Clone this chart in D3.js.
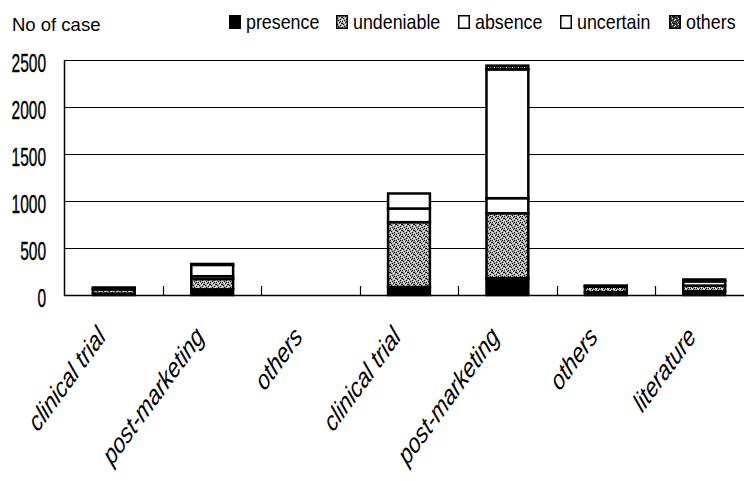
<!DOCTYPE html>
<html>
<head>
<meta charset="utf-8">
<script src="https://cdn.jsdelivr.net/npm/d3@7"></script>
<style>
  body { margin: 0; background: #fff; }
  svg { display: block; }
</style>
</head>
<body>
<svg id="chart" width="744" height="481"></svg>
<script>
// data
const categories = ["clinical trial", "post-marketing", "others", "clinical trial ", "post-marketing ", "others ", "literature"];
const presence   = [15, 60, 0, 85, 180, 30, 40];
const undeniable = [45, 110, 0, 690, 690, 60, 60];
const absence    = [10, 30, 0, 145, 160, 5, 45];
const uncertain  = [10, 120, 0, 160, 1370, 5, 10];
const others     = [0, 10, 0, 0, 40, 0, 10];
const yTicks = [0, 500, 1000, 1500, 2000, 2500];
const seriesNames = ["presence", "undeniable", "absence", "uncertain", "others"];

const svg = d3.select("#chart");
const sans = "'Liberation Sans', Arial, sans-serif";

// fill patterns
const defs = svg.append("defs");
function stipple(id, bg, dark, light) {
  const p = defs.append("pattern").attr("id", id)
    .attr("patternUnits", "userSpaceOnUse").attr("width", 6).attr("height", 6);
  p.append("rect").attr("width", 6).attr("height", 6).attr("fill", bg);
  dark.forEach(([x, y]) => p.append("rect").attr("x", x).attr("y", y).attr("width", 1).attr("height", 1).attr("fill", "#000"));
  light.forEach(([x, y]) => p.append("rect").attr("x", x).attr("y", y).attr("width", 1).attr("height", 1).attr("fill", "#fff"));
}
stipple("pUnd", "#a8a8a8", [[0,0],[3,1],[1,3],[4,4],[2,5],[5,2],[4,0],[0,2]], [[2,1],[5,5],[0,4],[3,3],[1,0],[4,2]]);
stipple("pOth", "#505050", [[0,0],[3,1],[1,3],[4,4],[2,5],[5,2],[1,1],[4,2]], [[2,1],[5,5],[0,4],[3,3]]);

const fills = {
  presence: "#000",
  undeniable: "url(#pUnd)",
  absence: "#fff",
  uncertain: "#fff",
  others: "url(#pOth)"
};

const table = categories.map((c, i) => ({
  cat: c,
  presence: presence[i],
  undeniable: undeniable[i],
  absence: absence[i],
  uncertain: uncertain[i],
  others: others[i]
}));

const x = d3.scaleBand()
  .domain(categories)
  .range([64.6, 753.4])
  .paddingInner(0.575)
  .paddingOuter(0.2875);

const y = d3.scaleLinear()
  .domain([0, 2500])
  .range([295, 60]);

// gridlines
svg.append("g")
  .selectAll("line")
  .data(yTicks.filter(d => d > 0))
  .join("line")
  .attr("x1", 64).attr("x2", 744)
  .attr("y1", d => Math.round(y(d)) + 0.5).attr("y2", d => Math.round(y(d)) + 0.5)
  .attr("stroke", "#000").attr("stroke-width", 1.2);

// y axis line & baseline
svg.append("line").attr("x1", 64.5).attr("x2", 64.5).attr("y1", y(2500)).attr("y2", y(0) + 1)
  .attr("stroke", "#000").attr("stroke-width", 1.5);
svg.append("line").attr("x1", 64).attr("x2", 744).attr("y1", y(0) + 0.5).attr("y2", y(0) + 0.5)
  .attr("stroke", "#000").attr("stroke-width", 1.5);

// category tick marks between bands
const step = x.step();
svg.append("g")
  .selectAll("line")
  .data(categories.slice(1))
  .join("line")
  .attr("x1", d => Math.round(x(d) - x.paddingInner() * step / 2) + 0.5)
  .attr("x2", d => Math.round(x(d) - x.paddingInner() * step / 2) + 0.5)
  .attr("y1", y(0) - 9).attr("y2", y(0))
  .attr("stroke", "#000").attr("stroke-width", 1.2);

// y labels (condensed)
svg.append("g")
  .selectAll("text")
  .data(yTicks)
  .join("text")
  .attr("transform", d => `translate(46,${y(d) + 3}) scale(0.62,1)`)
  .attr("text-anchor", "end")
  .attr("dy", "0.35em")
  .style("font-family", sans)
  .style("font-size", "25px")
  .style("stroke", "#000")
  .style("stroke-width", 0.4)
  .text(d => d);

// stacked bars
const stack = d3.stack().keys(seriesNames)(table);
svg.append("g")
  .selectAll("g")
  .data(stack)
  .join("g")
  .attr("fill", d => fills[d.key])
  .selectAll("rect")
  .data(d => d.filter(s => s[1] - s[0] > 0))
  .join("rect")
  .attr("x", d => x(d.data.cat))
  .attr("width", x.bandwidth())
  .attr("y", d => y(d[1]))
  .attr("height", d => y(d[0]) - y(d[1]))
  .attr("stroke", "#000")
  .attr("stroke-width", 2.5);

// x labels (slanted like italics)
svg.append("g")
  .selectAll("text")
  .data(categories)
  .join("text")
  .attr("transform", d => `translate(${x(d) + x.bandwidth() / 2 - 7},${y(0) + 43}) rotate(-54) skewX(-14)`)
  .attr("text-anchor", "end")
  .style("font-family", sans)
  .style("font-style", "italic")
  .style("font-size", "24px")
  .text(d => d.trim());

// axis title
svg.append("text")
  .attr("x", 12).attr("y", 31)
  .style("font-family", sans)
  .style("font-size", "18.5px")
  .text("No of case");

// legend
const legendX = [229, 336, 458, 560, 669];
const legend = svg.append("g")
  .selectAll("g")
  .data(seriesNames)
  .join("g")
  .attr("transform", (d, i) => `translate(${legendX[i]},15)`);
legend.append("rect")
  .attr("x", 0.75).attr("y", 0.75)
  .attr("width", 10.5).attr("height", 12.5)
  .attr("fill", d => fills[d])
  .attr("stroke", "#000").attr("stroke-width", 1.5);
legend.append("text")
  .attr("transform", "translate(17,13.5) scale(0.85,1)")
  .style("font-family", sans)
  .style("font-size", "21px")
  .text(d => d);
</script>
</body>
</html>
